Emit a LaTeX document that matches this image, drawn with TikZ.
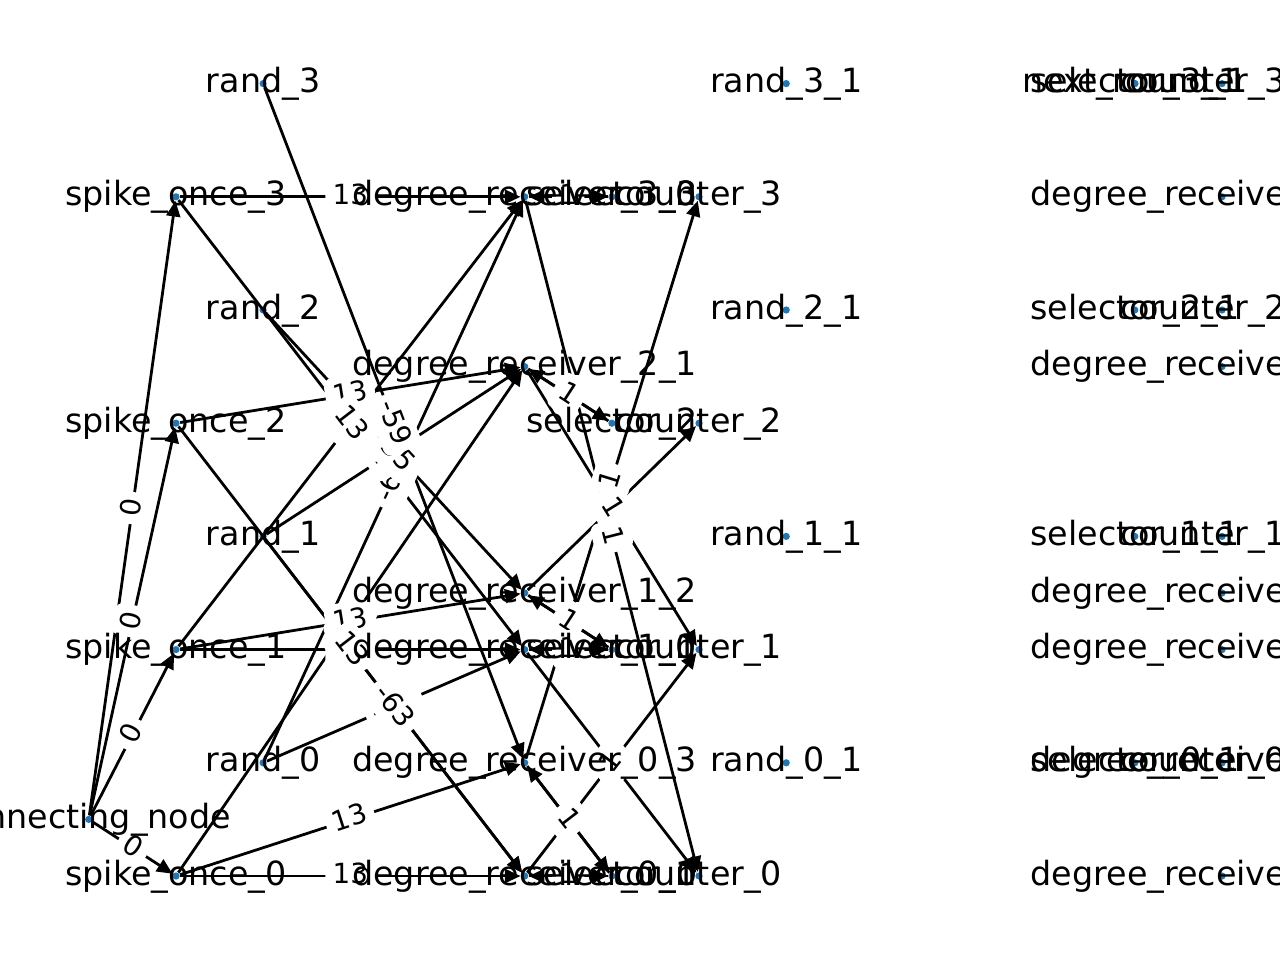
\documentclass[tikz,border=0pt]{standalone}
\usepackage{fontspec}
\setmainfont{DejaVu Sans}
\usetikzlibrary{arrows.meta}
\definecolor{nodeblue}{HTML}{1F77B4}
\tikzset{
  dot/.style={circle, fill=nodeblue, draw=none, inner sep=0pt, minimum size=2.6pt},
  lbl/.style={font=\fontsize{12}{14}\selectfont, anchor=base, inner sep=0pt, yshift=-3.3pt},
  edge/.style={line width=1pt, -{Triangle[length=5.6pt,width=5pt]}},
  wlab/.style={font=\fontsize{10}{12}\selectfont, fill=white, rounded corners=3pt, inner sep=2.6pt, sloped, text height=7.3pt, text depth=1.6pt, midway}
}
\begin{document}
\begin{tikzpicture}[x=0.36pt,y=-0.36pt]
\useasboundingbox (0,0) rectangle (1280,960);
% ---------- node dots ----------
\node[dot] (CN) at (88.8,819.4) {};
\node[dot] (S0) at (176,876) {};
\node[dot] (S1) at (176,649.6) {};
\node[dot] (S2) at (176,423.2) {};
\node[dot] (S3) at (176,196.8) {};
\node[dot] (R0) at (263.1,762.8) {};
\node[dot] (R1) at (263.1,536.4) {};
\node[dot] (R2) at (263.1,310) {};
\node[dot] (R3) at (263.1,83.6) {};
\node[dot] (D30) at (524.7,196.8) {};
\node[dot] (D21) at (524.7,366.6) {};
\node[dot] (D12) at (524.7,593) {};
\node[dot] (D10) at (524.7,649.6) {};
\node[dot] (D03) at (524.7,762.8) {};
\node[dot] (D01) at (524.7,876) {};
\node[dot] (Sel3) at (611.9,196.8) {};
\node[dot] (Sel2) at (611.9,423.2) {};
\node[dot] (Sel1) at (611.9,649.6) {};
\node[dot] (Sel0) at (611.9,876) {};
\node[dot] (C3) at (699,196.8) {};
\node[dot] (C2) at (699,423.2) {};
\node[dot] (C1) at (699,649.6) {};
\node[dot] (C0) at (699,876) {};
\node[dot] (R31) at (786.2,83.6) {};
\node[dot] (R21) at (786.2,310) {};
\node[dot] (R11) at (786.2,536.4) {};
\node[dot] (R01) at (786.2,762.8) {};
\node[dot] (NR1) at (1134.8,83.6) {};
\node[dot] (Sel31) at (1134.8,83.6) {};
\node[dot] (C31) at (1222,83.6) {};
\node[dot] (D301) at (1222,196.8) {};
\node[dot] (Sel21) at (1134.8,310) {};
\node[dot] (C21) at (1222,310) {};
\node[dot] (D211) at (1222,366.6) {};
\node[dot] (Sel11) at (1134.8,536.4) {};
\node[dot] (C11) at (1222,536.4) {};
\node[dot] (D121) at (1222,593) {};
\node[dot] (D101) at (1222,649.6) {};
\node[dot] (Sel01) at (1134.8,762.8) {};
\node[dot] (D031) at (1222,762.8) {};
\node[dot] (C01) at (1222,762.8) {};
\node[dot] (D011) at (1222,876) {};
% ---------- edges ----------
\foreach \t in {S0,S1,S2,S3} \draw[edge] (CN) -- (\t);
\draw[edge] (S3) -- (D30);
\draw[edge] (S1) -- (D30);
\draw[edge] (R0) -- (D30);
\draw[edge] (S2) -- (D21);
\draw[edge] (S0) -- (D21);
\draw[edge] (R1) -- (D21);
\draw[edge] (S1) -- (D12);
\draw[edge] (R2) -- (D12);
\draw[edge] (S1) -- (D10);
\draw[edge] (S3) -- (D10);
\draw[edge] (R0) -- (D10);
\draw[edge] (S0) -- (D03);
\draw[edge] (R3) -- (D03);
\draw[edge] (S0) -- (D01);
\draw[edge] (S2) -- (D01);
\draw[edge] (R1) -- (D01);
\draw[edge] (D30) -- (Sel3);
\draw[edge] (Sel3) -- (D30);
\draw[edge] (D21) -- (Sel2);
\draw[edge] (Sel2) -- (D21);
\draw[edge] (D12) -- (Sel1);
\draw[edge] (Sel1) -- (D12);
\draw[edge] (D10) -- (Sel1);
\draw[edge] (Sel1) -- (D10);
\draw[edge] (D03) -- (Sel0);
\draw[edge] (Sel0) -- (D03);
\draw[edge] (D01) -- (Sel0);
\draw[edge] (Sel0) -- (D01);
\draw[edge] (D30) -- (C0);
\draw[edge] (D10) -- (C0);
\draw[edge] (D21) -- (C1);
\draw[edge] (D01) -- (C1);
\draw[edge] (D12) -- (C2);
\draw[edge] (D03) -- (C3);
% ---------- edge labels ----------
\foreach \t in {S0,S1,S2,S3} \path (CN) -- node[wlab]{0} (\t);
\path (S3) -- node[wlab]{13} (D30);
\path (S1) -- node[wlab]{13} (D30);
\path (S2) -- node[wlab]{13} (D21);
\path (S3) -- node[wlab]{13} (D10);
\path (S0) -- node[wlab]{13} (D21);
\path (S1) -- node[wlab]{13} (D12);
\path (S1) -- node[wlab]{13} (D10);
\path (S2) -- node[wlab]{13} (D01);
\path (S0) -- node[wlab]{13} (D03);
\path (S0) -- node[wlab]{13} (D01);
\path (R0) -- node[wlab]{-61} (D30);
\path (R1) -- node[wlab]{-63} (D21);
\path (R2) -- node[wlab]{-55} (D12);
\path (R3) -- node[wlab]{-59} (D03);
\path (R0) -- node[wlab]{-61} (D10);
\path (R1) -- node[wlab]{-63} (D01);
\path (D30) -- node[wlab]{1} (Sel3);
\path (D21) -- node[wlab]{1} (Sel2);
\path (D12) -- node[wlab]{1} (Sel1);
\path (D10) -- node[wlab]{1} (Sel1);
\path (D03) -- node[wlab]{1} (Sel0);
\path (D01) -- node[wlab]{1} (Sel0);
\path (D03) -- node[wlab]{1} (C3);
\path (D12) -- node[wlab]{1} (C2);
\path (D21) -- node[wlab]{1} (C1);
\path (D30) -- node[wlab]{1} (C0);
\path (D10) -- node[wlab]{1} (C0);
\path (D01) -- node[wlab]{1} (C1);
% ---------- node labels ----------
\node[lbl] (tCN) at (CN) {connecting\_node};
\node[lbl] (tS0) at (S0) {spike\_once\_0};
\node[lbl] (tS1) at (S1) {spike\_once\_1};
\node[lbl] (tS2) at (S2) {spike\_once\_2};
\node[lbl] (tS3) at (S3) {spike\_once\_3};
\node[lbl] (tR0) at (R0) {rand\_0};
\node[lbl] (tR1) at (R1) {rand\_1};
\node[lbl] (tR2) at (R2) {rand\_2};
\node[lbl] (tR3) at (R3) {rand\_3};
\node[lbl] (tD30) at (D30) {degree\_receiver\_3\_0};
\node[lbl] (tD21) at (D21) {degree\_receiver\_2\_1};
\node[lbl] (tD12) at (D12) {degree\_receiver\_1\_2};
\node[lbl] (tD10) at (D10) {degree\_receiver\_1\_0};
\node[lbl] (tD03) at (D03) {degree\_receiver\_0\_3};
\node[lbl] (tD01) at (D01) {degree\_receiver\_0\_1};
\node[lbl] (tSel3) at (Sel3) {selector\_3};
\node[lbl] (tSel2) at (Sel2) {selector\_2};
\node[lbl] (tSel1) at (Sel1) {selector\_1};
\node[lbl] (tSel0) at (Sel0) {selector\_0};
\node[lbl] (tC3) at (C3) {counter\_3};
\node[lbl] (tC2) at (C2) {counter\_2};
\node[lbl] (tC1) at (C1) {counter\_1};
\node[lbl] (tC0) at (C0) {counter\_0};
\node[lbl] (tR31) at (R31) {rand\_3\_1};
\node[lbl] (tR21) at (R21) {rand\_2\_1};
\node[lbl] (tR11) at (R11) {rand\_1\_1};
\node[lbl] (tR01) at (R01) {rand\_0\_1};
\node[lbl] (tNR1) at (NR1) {next\_round\_1};
\node[lbl] (tSel31) at (Sel31) {selector\_3\_1};
\node[lbl] (tC31) at (C31) {counter\_3\_1};
\node[lbl] (tD301) at (D301) {degree\_receiver\_3\_0\_1};
\node[lbl] (tSel21) at (Sel21) {selector\_2\_1};
\node[lbl] (tC21) at (C21) {counter\_2\_1};
\node[lbl] (tD211) at (D211) {degree\_receiver\_2\_1\_1};
\node[lbl] (tSel11) at (Sel11) {selector\_1\_1};
\node[lbl] (tC11) at (C11) {counter\_1\_1};
\node[lbl] (tD121) at (D121) {degree\_receiver\_1\_2\_1};
\node[lbl] (tD101) at (D101) {degree\_receiver\_1\_0\_1};
\node[lbl] (tSel01) at (Sel01) {selector\_0\_1};
\node[lbl] (tD031) at (D031) {degree\_receiver\_0\_3\_1};
\node[lbl] (tC01) at (C01) {counter\_0\_1};
\node[lbl] (tD011) at (D011) {degree\_receiver\_0\_1\_1};
\end{tikzpicture}
\end{document}
